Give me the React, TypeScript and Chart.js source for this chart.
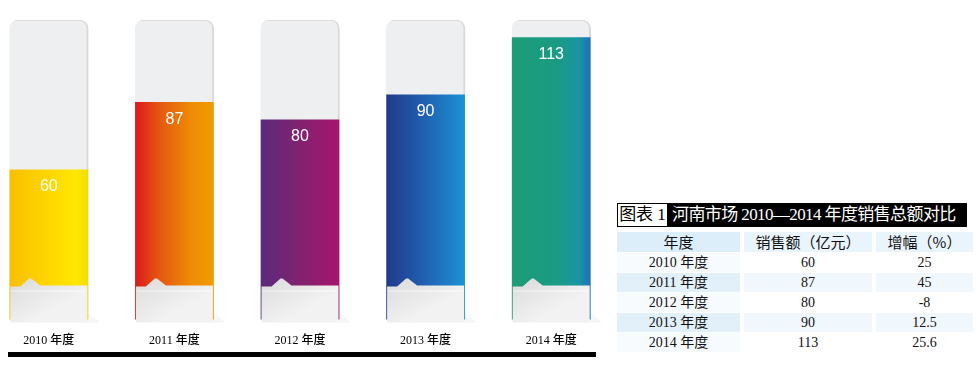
import React, { useEffect, useRef } from "react";
import { Chart, registerables } from "chart.js";

Chart.register(...registerables);

// ---- data ----
const years: string[] = ["2010 年度", "2011 年度", "2012 年度", "2013 年度", "2014 年度"];
const sales: number[] = [60, 87, 80, 90, 113];
const growth: string[] = ["25", "45", "-8", "12.5", "25.6"];
const trackMax = 120;
const tableTitleTag = "图表 1";
const tableTitle = "河南市场 2010—2014 年度销售总额对比";
const tableHeaders: string[] = ["年度", "销售额（亿元）", "增幅（%）"];

// ---- styles ----
const gradients: [number, string][][] = [
  [[0, "#F8BF00"], [0.55, "#FFD900"], [0.85, "#FFE700"], [1, "#EEE000"]],
  [[0, "#DC1A1E"], [0.3, "#E4560F"], [0.7, "#EE8A05"], [1, "#F29C00"]],
  [[0, "#5A2A7C"], [0.5, "#82226F"], [1, "#A6156E"]],
  [[0, "#22398A"], [0.5, "#1F62B2"], [1, "#1C92D4"]],
  [[0, "#1C9C77"], [0.55, "#1A9B83"], [0.85, "#1995A0"], [1, "#1D6EC4"]],
];
const OFFSET_X = 14; // canvas shifted left by this many px
const BAR_W = 78;

const overlayPlugin = {
  id: "overlay",
  afterDatasetsDraw(chart: any) {
    const ctx: CanvasRenderingContext2D = chart.ctx;
    const area = chart.chartArea;
    const meta = chart.getDatasetMeta(0);
    ctx.save();
    meta.data.forEach((el: any, i: number) => {
      const left = el.x - BAR_W / 2 + 0.5;
      const right = el.x + BAR_W / 2 - 0.5;
      const baseTop = area.bottom - 33;
      const baseBottom = area.bottom + 3;
      // soft shadow
      const sg = ctx.createLinearGradient(0, baseBottom - 12, 0, baseBottom + 1);
      sg.addColorStop(0, "rgba(0,0,0,0)");
      sg.addColorStop(1, "rgba(0,0,0,0.05)");
      ctx.fillStyle = sg;
      ctx.beginPath();
      ctx.moveTo(right, baseBottom - 12);
      ctx.lineTo(right + 12, baseBottom);
      ctx.lineTo(right, baseBottom);
      ctx.closePath();
      ctx.fill();
      // grey base with notch
      const g = ctx.createLinearGradient(left, baseTop, left + 20, baseBottom);
      g.addColorStop(0, "#DEDEDE");
      g.addColorStop(1, "#F2F2F2");
      ctx.fillStyle = g;
      ctx.beginPath();
      ctx.moveTo(left, baseTop);
      ctx.lineTo(left + 10, baseTop);
      ctx.lineTo(left + 19, baseTop - 8);
      ctx.lineTo(left + 21, baseTop - 8);
      ctx.lineTo(left + 30, baseTop - 1);
      ctx.lineTo(right, baseTop - 1);
      ctx.lineTo(right, baseBottom);
      ctx.lineTo(left, baseBottom);
      ctx.closePath();
      ctx.fill();
      // light line under notch
      ctx.strokeStyle = "rgba(255,255,255,0.7)";
      ctx.lineWidth = 1;
      ctx.beginPath();
      ctx.moveTo(left + 1, baseTop + 4.5);
      ctx.lineTo(right - 1, baseTop + 4.5);
      ctx.stroke();
      // value label
      ctx.fillStyle = "#FFFFFF";
      ctx.font = '16px "Liberation Sans", Arial, sans-serif';
      ctx.textAlign = "center";
      ctx.textBaseline = "middle";
      ctx.fillText(String(sales[i]), el.x, el.y + 17);
    });
    // bottom black rule
    ctx.fillStyle = "#000000";
    ctx.fillRect(8 + OFFSET_X, 352, 588, 5);
    ctx.restore();
  },
};

function ChartView() {
  const ref = useRef<HTMLCanvasElement | null>(null);
  useEffect(() => {
    if (!ref.current) return;
    const chart = new Chart(ref.current, {
      type: "bar",
      data: {
        labels: years,
        datasets: [
          {
            label: "销售额",
            data: sales,
            grouped: false,
            order: 1,
            barThickness: BAR_W,
            borderWidth: 0,
            backgroundColor: (c: any) => {
              const chart = c.chart;
              const i = c.dataIndex ?? 0;
              const stops = gradients[i] || gradients[0];
              const xs = chart.scales && chart.scales.x;
              if (!xs || !chart.chartArea) return stops[0][1];
              const cx = xs.getPixelForValue(i);
              const g = chart.ctx.createLinearGradient(cx - BAR_W / 2, 0, cx + BAR_W / 2, 0);
              stops.forEach(([o, col]) => g.addColorStop(o, col));
              return g;
            },
          } as any,
          {
            label: "track",
            data: years.map(() => trackMax),
            grouped: false,
            order: 2,
            barThickness: BAR_W + 1,
            backgroundColor: "#EEEFF0",
            borderColor: "#D9D9DA",
            borderWidth: { top: 1, left: 0, right: 2, bottom: 0 },
            borderSkipped: "bottom",
            borderRadius: { topLeft: 9, topRight: 9, bottomLeft: 0, bottomRight: 0 },
          } as any,
        ],
      },
      options: {
        animation: false,
        responsive: false,
        maintainAspectRatio: false,
        layout: { padding: { top: 20, bottom: 30, left: 0, right: 0 } },
        plugins: { legend: { display: false }, tooltip: { enabled: false } },
        scales: {
          x: {
            offset: true,
            grid: { display: false, drawTicks: false },
            border: { display: false },
            ticks: {
              color: "#000000",
              padding: 14,
              font: { family: "'Liberation Serif', 'Noto Sans CJK SC', serif", size: 12, weight: "500" },
            },
          },
          y: { display: false, min: 0, max: trackMax },
        },
      },
      plugins: [overlayPlugin],
    });
    return () => chart.destroy();
  }, []);
  return (
    <canvas
      ref={ref}
      width={628}
      height={392}
      style={{ position: "absolute", left: -OFFSET_X, top: 0, width: 628, height: 392 }}
    />
  );
}

const serifCJK = "'Liberation Serif', 'Noto Sans CJK SC', serif";
const colBounds: [number, number][] = [
  [617, 740],
  [744, 872],
  [876, 973],
];

function DataTable() {
  const rowTop = 232;
  const headerH = 20;
  const rowH = 20;
  const cells: React.ReactNode[] = [];
  const rows: string[][] = [tableHeaders, ...years.map((y, i) => [y, String(sales[i]), growth[i]])];
  rows.forEach((r, ri) => {
    const top = ri === 0 ? rowTop : rowTop + headerH + 1 + (ri - 1) * rowH;
    const h = ri === 0 ? headerH : rowH - 1;
    r.forEach((txt, ci) => {
      const [l, rgt] = colBounds[ci];
      let bg = "#FFFFFF";
      if (ri === 0) bg = ci === 0 ? "#DCEEFA" : "#EAF4FC";
      else if (ri % 2 === 0) bg = ci === 0 ? "#E2F0FA" : "#F1F8FD";
      else bg = ci === 0 ? "#F7FBFE" : "#FFFFFF";
      cells.push(
        <div
          key={ri + "-" + ci}
          style={{
            position: "absolute",
            left: l,
            top,
            width: rgt - l,
            height: h,
            lineHeight: h + "px",
            background: bg,
            textAlign: "center",
            fontFamily: ri === 0 ? "'Noto Sans CJK SC', sans-serif" : serifCJK,
            fontSize: ri === 0 ? 15 : 14,
            color: "#111",
            whiteSpace: "nowrap",
          }}
        >
          {txt}
        </div>
      );
    });
  });
  return (
    <>
      <div
        style={{
          position: "absolute",
          left: 617,
          top: 203,
          width: 51,
          height: 24,
          boxSizing: "border-box",
          border: "1px solid #000",
          background: "#fff",
          color: "#000",
          fontFamily: "'Liberation Serif', 'Noto Sans CJK SC', serif",
          fontSize: 17,
          lineHeight: "22px",
          textAlign: "center",
          whiteSpace: "nowrap",
        }}
      >
        {tableTitleTag}
      </div>
      <div
        style={{
          position: "absolute",
          left: 668,
          top: 203,
          width: 299,
          height: 24,
          background: "#000",
          color: "#fff",
          fontFamily: "'Liberation Serif', 'Noto Sans CJK SC', serif",
          fontSize: 17,
          letterSpacing: "-0.6px",
          lineHeight: "24px",
          paddingLeft: 4,
          boxSizing: "border-box",
          whiteSpace: "nowrap",
          overflow: "hidden",
        }}
      >
        {tableTitle}
      </div>
      {cells}
    </>
  );
}

export default function App() {
  return (
    <div
      style={{
        position: "absolute",
        left: 0,
        top: 0,
        width: 979,
        height: 392,
        background: "#fff",
        overflow: "hidden",
      }}
    >
      <ChartView />
      <DataTable />
    </div>
  );
}
